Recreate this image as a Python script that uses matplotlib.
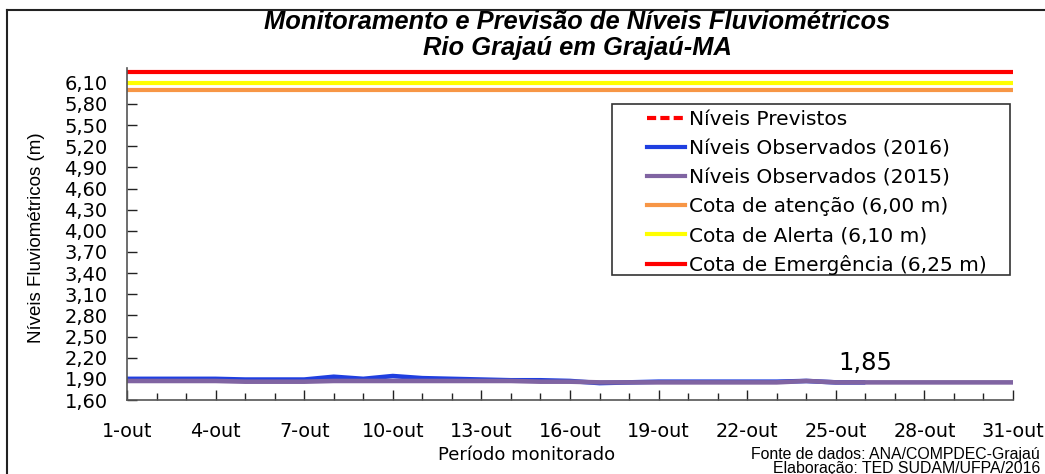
import matplotlib
matplotlib.use("Agg")
import matplotlib.pyplot as plt
from matplotlib.lines import Line2D
from matplotlib.patches import Rectangle
from matplotlib.ticker import MultipleLocator, FixedLocator

plt.rcParams['font.family'] = ['DejaVu Sans']

# ---- data ----
days_2016 = list(range(1, 27))
obs_2016 = [1.90, 1.90, 1.90, 1.90, 1.89, 1.89, 1.89, 1.93, 1.90, 1.94,
            1.91, 1.90, 1.89, 1.88, 1.88, 1.87, 1.84, 1.85, 1.86, 1.86,
            1.86, 1.86, 1.86, 1.87, 1.85, 1.85]
days_2015 = list(range(1, 32))
obs_2015 = [1.87, 1.87, 1.87, 1.87, 1.86, 1.86, 1.86, 1.87, 1.87, 1.87,
            1.87, 1.87, 1.87, 1.87, 1.86, 1.86, 1.85, 1.85, 1.85, 1.85,
            1.85, 1.85, 1.85, 1.87, 1.85, 1.85, 1.85, 1.85, 1.85, 1.85, 1.85]
cota_atencao = 6.00
cota_alerta = 6.10
cota_emergencia = 6.25
last_label = "1,85"
last_day = 26
last_value = 1.85
xtick_days = list(range(1, 32, 3))
xtick_labels = [f"{d}-out" for d in xtick_days]
ytick_values = [round(1.6 + 0.3 * i, 2) for i in range(16)]
ytick_labels = [f"{v:.2f}".replace('.', ',') for v in ytick_values]

W, H = 1045, 474
fig = plt.figure(figsize=(W/100, H/100), dpi=100)
ax = fig.add_axes([127/W, 1-400/H, (1013-127)/W, (400-68)/H])

ax.axhline(cota_atencao, color='#F79646', lw=3)
ax.axhline(cota_alerta, color='#FFFF00', lw=3)
ax.axhline(cota_emergencia, color='#FF0000', lw=3)
ax.plot(days_2016, obs_2016, color='#1F3FE0', lw=3.3, solid_capstyle='butt')
ax.plot(days_2015, obs_2015, color='#8064A2', lw=3.3, solid_capstyle='butt')

ax.text(last_day, last_value + 0.275, last_label, ha='center', va='center', fontsize=17.5)

ax.set_xlim(1, 31)
ax.set_ylim(1.6, 6.31)
ax.xaxis.set_major_locator(FixedLocator(xtick_days))
ax.set_xticklabels(xtick_labels, fontsize=13.8)
ax.xaxis.set_minor_locator(MultipleLocator(1))
ax.set_yticks(ytick_values)
ax.set_yticklabels(ytick_labels, fontsize=14)
ax.tick_params(axis='x', which='major', direction='in', length=7, width=1, color='#222222', pad=16)
ax.tick_params(axis='x', which='minor', direction='in', length=5, width=1, color='#222222')
ax.tick_params(axis='y', direction='in', length=7, width=1, color='#222222', pad=14)
for s in ['top', 'right']:
    ax.spines[s].set_visible(False)
for s in ['left', 'bottom']:
    ax.spines[s].set_color('#555555')
    ax.spines[s].set_linewidth(1.2)

fig.text(37/W, 1-238/H, 'Níveis Fluviométricos (m)', rotation=90, ha='center', va='center',
         fontsize=13.5, family='Liberation Sans')
fig.text(527/W, 1-455/H, 'Período monitorado', ha='center', va='center', fontsize=13)

title_kw = dict(ha='center', va='center', fontsize=18.4, fontweight='bold', fontstyle='italic',
                family='Liberation Sans')
fig.text(577/W, 1-22/H, 'Monitoramento e Previsão de Níveis Fluviométricos', **title_kw)
fig.text(577/W, 1-48/H, 'Rio Grajaú em Grajaú-MA', **title_kw)

src_kw = dict(ha='right', va='center', fontsize=11.4, family='Liberation Sans')
fig.text(1040/W, 1-455/H, 'Fonte de dados: ANA/COMPDEC-Grajaú', **src_kw)
fig.text(1040/W, 1-468/H, 'Elaboração: TED SUDAM/UFPA/2016', **src_kw)

handles = [
    Line2D([], [], color='#FF0000', lw=3, ls=(0, (2.2, 1))),
    Line2D([], [], color='#1F3FE0', lw=3),
    Line2D([], [], color='#8064A2', lw=3),
    Line2D([], [], color='#F79646', lw=3),
    Line2D([], [], color='#FFFF00', lw=3),
    Line2D([], [], color='#FF0000', lw=3),
]
labels = ['Níveis Previstos', 'Níveis Observados (2016)', 'Níveis Observados (2015)',
          'Cota de atenção (6,00 m)', 'Cota de Alerta (6,10 m)', 'Cota de Emergência (6,25 m)']
leg = fig.legend(handles, labels, loc='upper left', bbox_to_anchor=(643/W, 1-106/H),
                 fontsize=14.5, frameon=False, handlelength=1.9, handletextpad=0.2,
                 borderpad=0.2, labelspacing=0.5, borderaxespad=0)

fig.add_artist(Rectangle((612/W, 1-275/H), (1010-612)/W, (275-104)/H, transform=fig.transFigure,
                         facecolor='none', edgecolor='#333333', lw=1.2))

# figure border
fig.add_artist(Line2D([7/W, 7/W], [0, 1-10/H], color='#222222', lw=1.5, transform=fig.transFigure))
fig.add_artist(Line2D([7/W, 1], [1-10/H, 1-10/H], color='#222222', lw=1.5, transform=fig.transFigure))

fig.savefig('out.png', dpi=100)
